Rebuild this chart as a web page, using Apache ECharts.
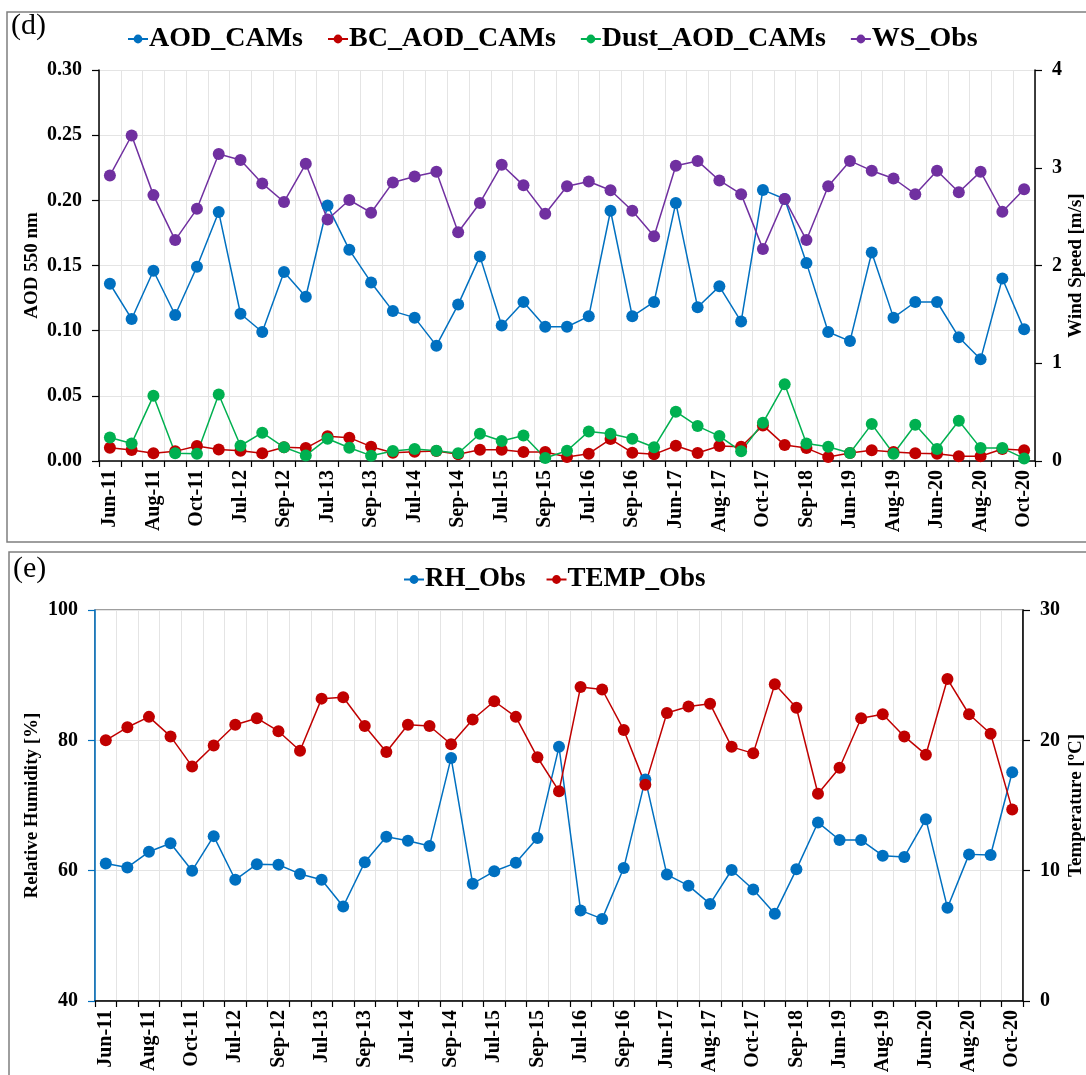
<!DOCTYPE html>
<html>
<head>
<meta charset="utf-8">
<script src="https://cdn.jsdelivr.net/npm/echarts@6/dist/echarts.min.js"></script>
<style>
html,body{margin:0;padding:0;background:#fff;}
#chart{width:1086px;height:1075px;}
</style>
</head>
<body>
<div id="chart"></div>
<script>
// Categories (labels shown every other one)
const months = ["Jun-11","Jul-11","Aug-11","Sep-11","Oct-11","Jun-12","Jul-12","Aug-12","Sep-12","Oct-12",
  "Jul-13","Aug-13","Sep-13","Oct-13","Jul-14","Aug-14","Sep-14","Oct-14","Jul-15","Aug-15",
  "Sep-15","Oct-15","Jul-16","Aug-16","Sep-16","Oct-16","Jun-17","Jul-17","Aug-17","Sep-17",
  "Oct-17","Jun-18","Sep-18","Oct-18","Jun-19","Jul-19","Aug-19","Sep-19","Jun-20","Jul-20",
  "Aug-20","Sep-20","Oct-20"];

// Panel (d)
const aodCAMs = [0.136,0.109,0.146,0.112,0.149,0.191,0.113,0.099,0.145,0.126,
  0.196,0.162,0.137,0.115,0.110,0.0885,0.120,0.157,0.104,0.122,
  0.103,0.103,0.111,0.192,0.111,0.122,0.198,0.118,0.134,0.107,
  0.208,0.201,0.152,0.099,0.092,0.160,0.110,0.122,0.122,0.095,
  0.078,0.140,0.101];
const bcAOD = [0.0102,0.0084,0.0059,0.0074,0.0115,0.0089,0.0079,0.0059,0.0105,0.0099,
  0.0189,0.0179,0.0110,0.0064,0.0071,0.0077,0.0051,0.0087,0.0087,0.0069,
  0.0069,0.0030,0.0056,0.0168,0.0064,0.0051,0.0117,0.0061,0.0115,0.0110,
  0.0273,0.0122,0.0099,0.0030,0.0061,0.0082,0.0069,0.0059,0.0056,0.0036,
  0.0036,0.0092,0.0082];
const dustAOD = [0.0180,0.0135,0.0500,0.0060,0.0056,0.0510,0.0117,0.0217,0.0105,0.0043,
  0.0171,0.0102,0.0041,0.0077,0.0092,0.0079,0.0059,0.0209,0.0153,0.0196,
  0.0023,0.0079,0.0227,0.0209,0.0171,0.0105,0.0378,0.0268,0.0191,0.0074,
  0.0293,0.0589,0.0135,0.0110,0.0061,0.0283,0.0056,0.0278,0.0092,0.0309,
  0.0099,0.0099,0.0020];
const wsObs = [2.92,3.33,2.72,2.26,2.58,3.14,3.08,2.84,2.65,3.04,
  2.47,2.67,2.54,2.85,2.91,2.96,2.34,2.64,3.03,2.82,
  2.53,2.81,2.86,2.77,2.56,2.30,3.02,3.07,2.87,2.73,
  2.17,2.68,2.26,2.81,3.07,2.97,2.89,2.73,2.97,2.75,
  2.96,2.55,2.78];

// Panel (e)
const rhObs = [61.1,60.5,62.9,64.2,60.0,65.3,58.6,61.0,60.9,59.5,
  58.6,54.5,61.3,65.2,64.6,63.8,77.3,58.0,59.9,61.2,
  65.0,79.0,53.9,52.6,60.4,74.0,59.4,57.7,54.9,60.1,
  57.1,53.4,60.2,67.4,64.7,64.7,62.3,62.1,67.9,54.3,
  62.5,62.4,75.1];
const tempObs = [20.0,21.0,21.8,20.3,18.0,19.6,21.2,21.7,20.7,19.2,
  23.2,23.3,21.1,19.1,21.2,21.1,19.7,21.6,23.0,21.8,
  18.7,16.1,24.1,23.9,20.8,16.6,22.1,22.6,22.8,19.5,
  19.0,24.3,22.5,15.9,17.9,21.7,22.0,20.3,18.9,24.7,
  22.0,20.5,14.7];

const leftTicksD = [0,0.3,0.05];
const rightTicksD = [0,4,1];
const leftTicksE = [40,100,20];
const rightTicksE = [0,30,10];

const C_BLUE = '#0070C0', C_RED = '#C00000', C_GREEN = '#00B050', C_PURPLE = '#7030A0';
const FONT = 'Liberation Serif';

const chart = echarts.init(document.getElementById('chart'), null, {renderer:'canvas'});

function xAx(gi){
  return {
    type:'category', gridIndex:gi, data:months, boundaryGap:true,
    axisLine:{show:true, lineStyle:{color:'#000', width:1.5}},
    axisTick:{show:true, interval:0, length:6, lineStyle:{color:'#000', width:1.2}},
    axisLabel:{interval:1, rotate:90, fontFamily:FONT, fontWeight:'bold', fontSize:20, color:'#000', margin:9},
    splitLine:{show:true, interval:0, lineStyle:{color:'#e4e4e4', width:1}}
  };
}
function yAx(gi, rng, pos, name, gap, lineColor, split, fmt){
  return {
    type:'value', gridIndex:gi, position:pos, min:rng[0], max:rng[1], interval:rng[2],
    name:name, nameLocation:'middle', nameGap:gap, nameRotate:90, nameMoveOverlap:false,
    nameTextStyle:{fontFamily:FONT, fontWeight:'bold', fontSize:19, color:'#000'},
    axisLine:{show:true, lineStyle:{color:lineColor, width:1.5}},
    axisTick:{show:true, length:7, lineStyle:{color:lineColor, width:1.2}},
    axisLabel:{fontFamily:FONT, fontWeight:'bold', fontSize:20, color:'#000', margin:17, formatter:fmt},
    splitLine:{show:split, lineStyle:{color:'#e4e4e4', width:1}}
  };
}
function ser(name, data, color, xi, yi){
  return {
    name:name, type:'line', data:data, xAxisIndex:xi, yAxisIndex:yi,
    symbol:'circle', symbolSize:12, showSymbol:true,
    lineStyle:{color:color, width:1.5}, itemStyle:{color:color},
    emphasis:{disabled:true}, animation:false
  };
}

const option = {
  backgroundColor:'#fff',
  animation:false,
  graphic:[
    {type:'rect', shape:{x:7, y:12, width:1120, height:530}, style:{fill:'none', stroke:'#7f7f7f', lineWidth:1.5}, silent:true},
    {type:'rect', shape:{x:9, y:552, width:1120, height:600}, style:{fill:'none', stroke:'#7f7f7f', lineWidth:1.5}, silent:true},
    {type:'text', left:11, top:11, style:{text:'(d)', font:'30px "Liberation Serif"', fill:'#000'}, silent:true},
    {type:'text', left:13, top:554, style:{text:'(e)', font:'30px "Liberation Serif"', fill:'#000'}, silent:true}
  ],
  legend:[
    {left:122, top:20, itemGap:24, itemWidth:20, itemHeight:11,
     data:['AOD_CAMs','BC_AOD_CAMs','Dust_AOD_CAMs','WS_Obs'],
     textStyle:{fontFamily:FONT, fontWeight:'bold', fontSize:28, color:'#000', padding:[0,0,0,-4]}},
    {left:398, top:561, itemGap:20, itemWidth:20, itemHeight:11,
     data:['RH_Obs','TEMP_Obs'],
     textStyle:{fontFamily:FONT, fontWeight:'bold', fontSize:27, color:'#000', padding:[0,0,0,-4]}}
  ],
  grid:[
    {left:99, right:51, top:70, height:391, show:false, containLabel:false, outerBoundsMode:'none'},
    {left:95, right:63, top:610, height:391, show:true, borderColor:'#404040', borderWidth:1.2,
     backgroundColor:'transparent', containLabel:false, outerBoundsMode:'none'}
  ],
  xAxis:[xAx(0), xAx(1)],
  yAxis:[
    yAx(0, leftTicksD, 'left', 'AOD 550 nm', 57, '#000', true, v => v.toFixed(2)),
    yAx(0, rightTicksD, 'right', 'Wind Speed [m/s]', 32, '#000', false, v => String(v)),
    yAx(1, leftTicksE, 'left', 'Relative Humidity [%]', 53, C_BLUE, true, v => String(v)),
    yAx(1, rightTicksE, 'right', 'Temperature [\u00BAC]', 44, '#000', false, v => String(v))
  ],
  series:[
    ser('AOD_CAMs', aodCAMs, C_BLUE, 0, 0),
    ser('BC_AOD_CAMs', bcAOD, C_RED, 0, 0),
    ser('Dust_AOD_CAMs', dustAOD, C_GREEN, 0, 0),
    ser('WS_Obs', wsObs, C_PURPLE, 0, 1),
    ser('RH_Obs', rhObs, C_BLUE, 1, 2),
    ser('TEMP_Obs', tempObs, C_RED, 1, 3)
  ]
};
chart.setOption(option);
</script>
</body>
</html>
